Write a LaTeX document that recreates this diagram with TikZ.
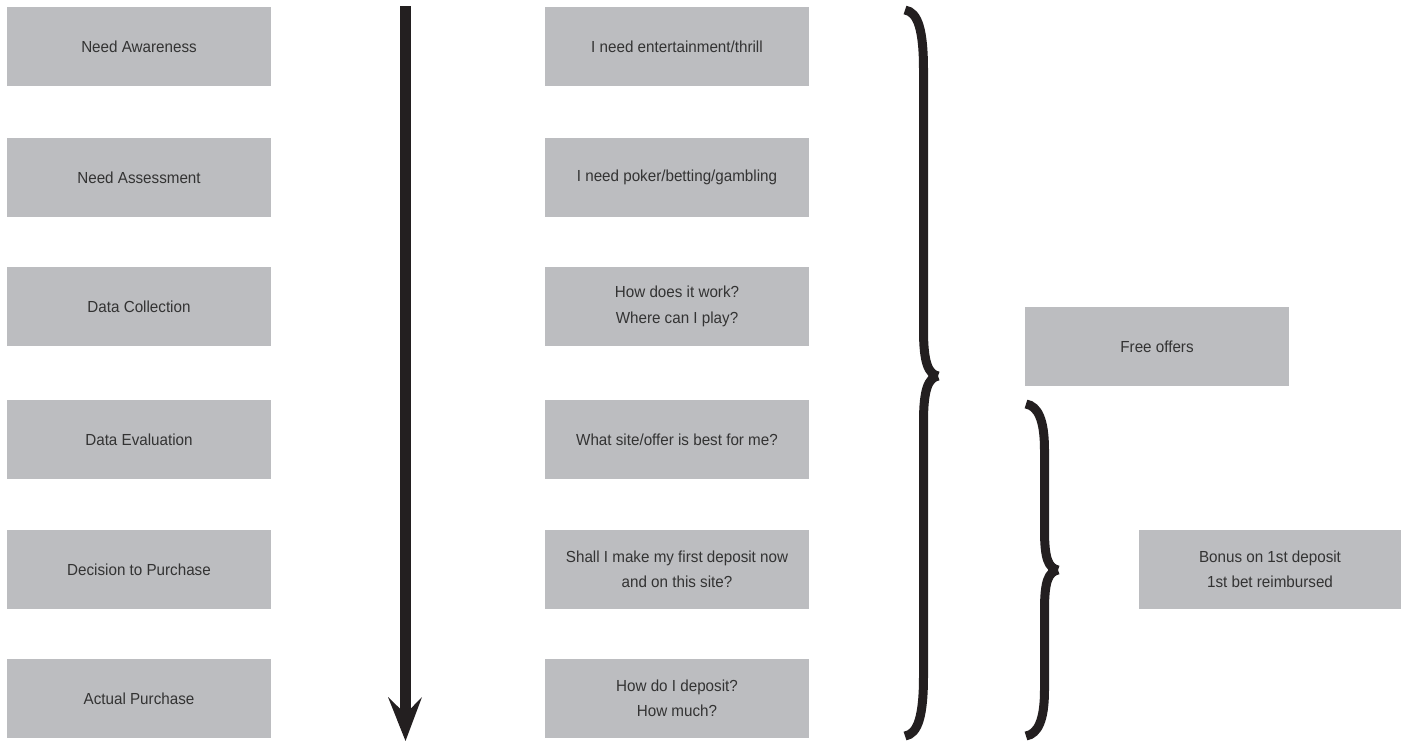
\documentclass[tikz,border=0pt]{standalone}
\usepackage{fontspec}
\setmainfont{Liberation Sans}[FakeStretch=0.95]
\definecolor{boxgray}{HTML}{BCBDC0}
\definecolor{txtgray}{HTML}{333333}
\definecolor{inkblack}{HTML}{231F20}
\begin{document}
\begin{tikzpicture}[x=1pt,y=-1pt,
  stage/.style={fill=boxgray, draw=none, minimum width=264pt, minimum height=79pt,
    inner sep=0pt, align=center, text=txtgray,
    font=\fontsize{16}{25.5}\selectfont},
  bracestroke/.style={draw=inkblack, line width=9pt, line cap=butt, line join=miter}]
\useasboundingbox (0,0) rectangle (1401,741);
% left column
\node[stage] (n1) at (139,46.5) {Need Awareness};
\node[stage] (n2) at (139,177.5) {Need Assessment};
\node[stage] (n3) at (139,306.5) {Data Collection};
\node[stage] (n4) at (139,439.5) {Data Evaluation};
\node[stage] (n5) at (139,569.5) {Decision to Purchase};
\node[stage] (n6) at (139,698.5) {Actual Purchase};
% middle column
\node[stage] (m1) at (677,46.5) {I need entertainment/thrill};
\node[stage] (m2) at (677,177.5) {I need poker/betting/gambling};
\node[stage] (m3) at (677,306.5) {How does it work?\\Where can I play?};
\node[stage] (m4) at (677,439.5) {What site/offer is best for me?};
\node[stage] (m5) at (677,569.5) {Shall I make my first deposit now\\and on this site?};
\node[stage] (m6) at (677,698.5) {How do I deposit?\\How much?};
% right
\node[stage] (f1) at (1157,346.5) {Free offers};
\node[stage, minimum width=262pt] (b1) at (1270,569.5) {Bonus on 1st deposit\\1st bet reimbursed};
% arrow
\fill[inkblack] (400,6) rectangle (411,716);
\fill[inkblack] (405.5,741) -- (388,697) -- (405.5,714) -- (422,697) -- cycle;
% big brace
\draw[bracestroke] (905,10) .. controls (918,12) and (923.5,30) .. (923.5,70)
  -- (923.5,330) .. controls (923.5,362) and (928,374) .. (938,376);
\draw[bracestroke] (905,736) .. controls (918,734) and (923.5,716) .. (923.5,676)
  -- (923.5,422) .. controls (923.5,390) and (928,378) .. (938,376);
% small brace
\draw[bracestroke] (1026,404) .. controls (1038,406) and (1044.5,420) .. (1044.5,450)
  -- (1044.5,530) .. controls (1044.5,558) and (1048,568) .. (1058,570);
\draw[bracestroke] (1026,736) .. controls (1038,734) and (1044.5,720) .. (1044.5,690)
  -- (1044.5,610) .. controls (1044.5,582) and (1048,572) .. (1058,570);
\end{tikzpicture}
\end{document}
